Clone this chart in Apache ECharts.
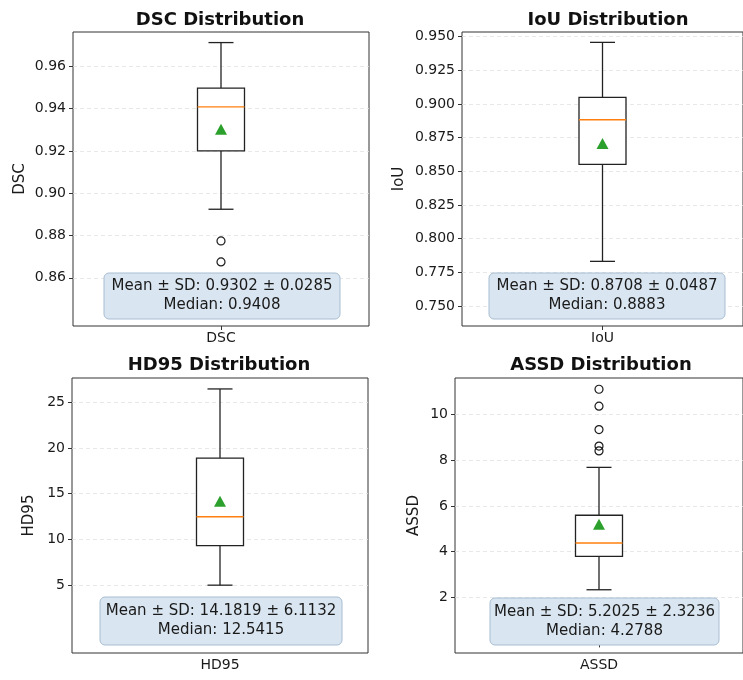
<!DOCTYPE html>
<html>
<head>
<meta charset="utf-8">
<script src="https://cdn.jsdelivr.net/npm/echarts@6/dist/echarts.min.js"></script>
<style>
html,body{margin:0;padding:0;background:#fff;}
#chart{width:743px;height:680px;}
</style>
</head>
<body>
<div id="chart"></div>
<script>
// ---- data ----
const metrics = ['DSC', 'IoU', 'HD95', 'ASSD'];
// [lower whisker, Q1, median, Q3, upper whisker]
const boxDSC  = [0.8924, 0.9200, 0.9408, 0.9497, 0.9712];
const boxIoU  = [0.7832, 0.8552, 0.8883, 0.9050, 0.9458];
const boxHD95 = [4.97, 9.30, 12.48, 18.91, 26.49];
const boxASSD = [2.34, 3.80, 4.38, 5.59, 7.68];
const meanDSC = 0.9302, meanIoU = 0.8708, meanHD95 = 14.1819, meanASSD = 5.2025;
const outDSC  = [0.8774, 0.8675];
const outIoU  = [];
const outHD95 = [];
const outASSD = [11.09, 10.35, 9.33, 8.61, 8.40];
const ticksDSC  = [0.86, 0.88, 0.90, 0.92, 0.94, 0.96];
const ticksIoU  = [0.750, 0.775, 0.800, 0.825, 0.850, 0.875, 0.900, 0.925, 0.950];
const ticksHD95 = [5, 10, 15, 20, 25];
const ticksASSD = [2, 4, 6, 8, 10];
const statsText = [
  ['Mean ± SD: 0.9302 ± 0.0285', 'Median: 0.9408'],
  ['Mean ± SD: 0.8708 ± 0.0487', 'Median: 0.8883'],
  ['Mean ± SD: 14.1819 ± 6.1132', 'Median: 12.5415'],
  ['Mean ± SD: 5.2025 ± 2.3236', 'Median: 4.2788']
];

const boxes = [boxDSC, boxIoU, boxHD95, boxASSD];
const means = [meanDSC, meanIoU, meanHD95, meanASSD];
const outs = [outDSC, outIoU, outHD95, outASSD];
const ticks = [ticksDSC, ticksIoU, ticksHD95, ticksASSD];
const decimals = [2, 3, 0, 0];
const yRanges = [[0.8372, 0.9762], [0.7352, 0.9535], [-2.47, 27.69], [-0.42, 11.58]];

// ---- layout ----
const FONT = 'DejaVu Sans';
const grids = [
  {left: 73, top: 32, width: 296, height: 294},
  {left: 462, top: 32, width: 293, height: 294},
  {left: 72, top: 378, width: 296, height: 275},
  {left: 455, top: 378, width: 292, height: 275}
];
const nameGaps = [45, 55, 35, 33];
const titlePos = [[220, 20], [608, 20], [219, 365], [601, 365]];
const statBoxes = [
  {x: 104, y: 273, w: 236, h: 46},
  {x: 489, y: 273, w: 236, h: 46},
  {x: 100, y: 597, w: 242, h: 48},
  {x: 490, y: 598, w: 229, h: 47}
];
const BOX_HALF = 23.5, CAP_HALF = 12.5;

const option = {
  animation: false,
  backgroundColor: '#fff',
  grid: grids.map(g => Object.assign({show: true, borderColor: '#333', borderWidth: 1, backgroundColor: '#fff', containLabel: false}, g)),
  xAxis: metrics.map((m, i) => ({
    type: 'category', gridIndex: i, data: [m],
    axisLine: {show: false},
    axisTick: {show: true, alignWithLabel: true, length: 4, lineStyle: {color: '#333'}},
    axisLabel: {fontFamily: FONT, fontSize: 14, color: '#1a1a1a', margin: 5},
    splitLine: {show: false}
  })),
  yAxis: metrics.map((m, i) => ({
    type: 'value', gridIndex: i, min: yRanges[i][0], max: yRanges[i][1],
    name: m, nameLocation: 'middle', nameGap: nameGaps[i],
    nameTextStyle: {fontFamily: FONT, fontSize: 15, color: '#1a1a1a'},
    axisLine: {show: false},
    axisTick: {show: true, length: 4, lineStyle: {color: '#333'}, customValues: ticks[i]},
    axisLabel: {fontFamily: FONT, fontSize: 14, color: '#1a1a1a', margin: 7, customValues: ticks[i],
      formatter: v => Number(v).toFixed(decimals[i])},
    splitLine: {show: true, lineStyle: {color: '#e2e2e2', type: [4, 3], width: 0.8}}
  })),
  series: [],
  graphic: []
};

metrics.forEach((m, i) => {
  option.series.push({
    type: 'custom', xAxisIndex: i, yAxisIndex: i, z: 3,
    data: [[0].concat(boxes[i])],
    renderItem: function (params, api) {
      const cx = api.coord([0, api.value(3)])[0];
      const y = k => api.coord([0, api.value(k)])[1];
      const yLo = y(1), yQ1 = y(2), yMed = y(3), yQ3 = y(4), yHi = y(5);
      const ls = {stroke: '#222', lineWidth: 1.3, fill: null};
      return {type: 'group', children: [
        {type: 'line', shape: {x1: cx, y1: yQ1, x2: cx, y2: yLo}, style: ls},
        {type: 'line', shape: {x1: cx, y1: yQ3, x2: cx, y2: yHi}, style: ls},
        {type: 'line', shape: {x1: cx - CAP_HALF, y1: yLo, x2: cx + CAP_HALF, y2: yLo}, style: ls},
        {type: 'line', shape: {x1: cx - CAP_HALF, y1: yHi, x2: cx + CAP_HALF, y2: yHi}, style: ls},
        {type: 'rect', shape: {x: cx - BOX_HALF, y: yQ3, width: 2 * BOX_HALF, height: yQ1 - yQ3},
          style: {stroke: '#222', lineWidth: 1.3, fill: '#fff'}},
        {type: 'line', shape: {x1: cx - BOX_HALF, y1: yMed, x2: cx + BOX_HALF, y2: yMed},
          style: {stroke: '#ff7f0e', lineWidth: 1.4}}
      ]};
    }
  });
  option.series.push({
    type: 'scatter', xAxisIndex: i, yAxisIndex: i, z: 4,
    symbol: 'triangle', symbolSize: [12, 11],
    itemStyle: {color: '#2ca02c', opacity: 1},
    data: [[0, means[i]]]
  });
  if (outs[i].length) {
    option.series.push({
      type: 'scatter', xAxisIndex: i, yAxisIndex: i, z: 4,
      symbol: 'circle', symbolSize: 8,
      itemStyle: {color: 'rgba(0,0,0,0)', borderColor: '#1a1a1a', borderWidth: 1.2, opacity: 1},
      data: outs[i].map(v => [0, v])
    });
  }
  option.graphic.push({
    type: 'text', x: titlePos[i][0], y: titlePos[i][1], z: 10,
    style: {text: m + ' Distribution', font: 'bold 18px "DejaVu Sans"', fill: '#111',
      align: 'center', verticalAlign: 'middle'}
  });
  const b = statBoxes[i];
  option.graphic.push({
    type: 'rect', x: b.x, y: b.y, z: 10,
    shape: {width: b.w, height: b.h, r: 5},
    style: {fill: '#d9e5f0', stroke: '#a8bdd2', lineWidth: 1}
  });
  option.graphic.push({
    type: 'text', x: b.x + b.w / 2, y: b.y + b.h / 2, z: 11,
    style: {text: statsText[i].join('\n'), font: '15px "DejaVu Sans"', fill: '#1a1a1a',
      align: 'center', verticalAlign: 'middle', lineHeight: 19}
  });
});

const chart = echarts.init(document.getElementById('chart'), null, {renderer: 'canvas'});
chart.setOption(option);
</script>
</body>
</html>
